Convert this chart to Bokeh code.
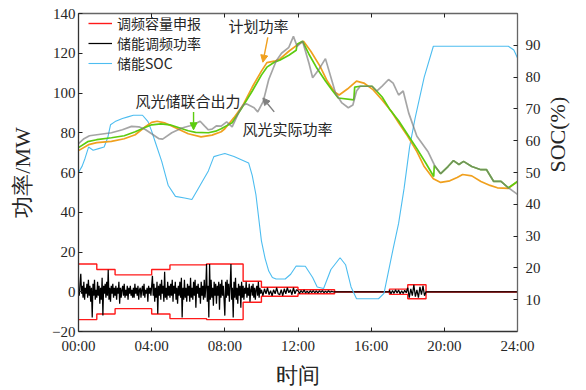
import math
import numpy as np
from bokeh.plotting import figure
from bokeh.models import (Range1d, LinearAxis, FixedTicker, Legend, LegendItem,
                          Arrow, NormalHead, Label)
from bokeh.embed import file_html
from bokeh.resources import INLINE

# ---------------- data ----------------
time_ticks = [0, 4, 8, 12, 16, 20, 24]
time_labels = ["00:00", "04:00", "08:00", "12:00", "16:00", "20:00", "24:00"]
power_ticks = [-20, 0, 20, 40, 60, 80, 100, 120, 140]
soc_ticks = [10, 20, 30, 40, 50, 60, 70, 80, 90]

# 计划功率 (MW)
plan_t = [0, 0.55, 1.0, 1.8, 2.5, 3.1, 3.65, 4.0, 4.3, 4.7, 5.0, 5.5, 6.0, 6.7, 7.3, 7.8,
          8.0, 8.5, 9.0, 9.5, 10.0, 10.3, 10.7, 11.0, 11.5, 12.0, 12.3, 12.7, 13.2, 13.6,
          14.0, 14.25, 14.7, 15.2, 15.6, 16.1, 16.6, 17.1, 17.5, 18.0, 18.5, 18.9, 19.4,
          19.8, 20.3, 20.7, 21.0, 21.5, 22.0, 22.5, 22.9, 23.5, 24.0]
plan_p = [71, 74, 75, 75.7, 77, 79, 83, 85.2, 85.8, 85, 83.8, 81.6, 79.5, 77.9, 78.8, 80.5,
          82, 87.6, 94, 103, 111, 115.3, 116, 117, 121, 124.5, 126, 121, 113.5, 106,
          100.5, 99, 102, 106, 105, 101.7, 96.5, 90.8, 85, 78.2, 70.5, 63, 56.8,
          55, 55.8, 57.5, 59, 58.3, 55.5, 53.5, 52.3, 52, 55.5]

# 风光储联合出力 (MW)
comb_t = [0, 0.5, 1.0, 1.8, 2.5, 3.1, 3.6, 4.0, 4.5, 5.0, 5.5, 6.0, 6.4, 7.1, 7.5, 7.8,
          8.4, 8.9, 9.5, 10.0, 10.3, 10.7, 11.0, 11.5, 11.9, 11.95, 12.25, 12.6, 13.0,
          13.5, 13.9, 14.2, 15.05, 15.1, 15.4, 16.05, 16.3, 16.6, 17.0, 17.5, 18.0, 18.5,
          19.0, 19.42, 19.45, 19.5, 19.8, 20.2, 20.5, 20.8, 21.05, 21.5, 22.0, 22.3, 22.7,
          23.1, 23.5, 24.0]
comb_p = [72.5, 75.5, 76.5, 77.5, 78.5, 80.5, 82.5, 84, 84.5, 84, 82.5, 81, 80.2, 80, 80.8, 82,
          85, 92, 101, 109, 113, 115.5, 116.5, 119, 121.5, 124.5, 126, 119.5, 113,
          106, 101, 97.5, 96.5, 103, 103.4, 103.4, 101, 98, 92, 86, 79, 72,
          64.5, 58, 63.5, 63, 59.4, 63, 66, 64, 65.6, 63, 61.4, 61.5, 55.5,
          55.5, 52.3, 55.5]

# 风光实际功率 (MW)
act_t = [0, 0.3, 0.6, 1.0, 1.8, 2.4, 2.9, 3.3, 3.65, 4.0, 4.4, 4.6, 5.1, 5.65, 6.1, 6.4,
         6.65, 6.9, 7.1, 7.3, 7.55, 7.8, 8.1, 8.4, 8.75, 9.0, 9.2, 9.6, 9.8, 10.1, 10.4,
         10.8, 11.1, 11.5, 11.75, 11.95, 12.25, 12.6, 12.8, 13.15, 13.5, 14.05, 14.4,
         14.75, 15.0, 15.2, 15.4, 16.05, 16.3, 16.6, 16.95, 17.2, 17.5, 17.75, 18.05,
         18.5, 19.1, 19.5, 19.8, 20.2, 20.5, 20.8, 21.05, 21.5, 22.0, 22.3, 22.7, 23.1,
         23.5, 24.0]
act_p = [74.5, 77, 78.5, 79, 80, 81.5, 83.2, 83, 81.6, 79.5, 77, 76.8, 80, 82.4, 83.5, 84.6,
         85.8, 83.3, 81.5, 81.8, 83.5, 83.3, 85.5, 83, 90, 94, 94.5, 92.6, 90.5, 95.8, 106.8,
         116, 120, 123, 128.5, 123.5, 126, 115, 107.7, 112, 117.3, 100, 95,
         92.6, 94, 101, 103.4, 103.4, 101, 103.5, 106.8, 105, 99, 101, 90,
         78.2, 70.6, 63, 59.4, 63, 66, 64, 65.6, 63, 61.4, 61.5, 55.5, 55.5,
         52.3, 49]

# 储能SOC (%)
soc_t = [0, 0.2, 0.36, 0.55, 0.8, 1.1, 1.4, 1.6, 1.75, 2.0, 2.4, 2.7, 3.0, 3.5, 3.8, 4.0,
         4.2, 4.55, 4.9, 5.3, 5.8, 6.2, 6.55, 6.8, 7.1, 7.4, 7.7, 8.0, 8.5, 8.9, 9.3, 9.5,
         9.7, 10.0, 10.2, 10.4, 10.6, 10.8, 11.3, 11.6, 11.9, 12.4, 12.8, 13.05, 13.4,
         13.8, 14.3, 14.6, 14.9, 15.2, 16.4, 16.7, 17.2, 17.5, 17.8, 18.1, 18.4, 18.9,
         19.4, 23.5, 23.8, 24.0]
soc_v = [50, 52, 54.5, 58, 57, 57.5, 58, 61, 65, 66, 67, 67.5, 68, 68, 66, 63,
         59.5, 53.5, 46, 42.5, 42, 41.5, 45, 47.5, 50.5, 55, 55.5, 56, 55, 54, 53, 49,
         43, 28.5, 23, 19, 17, 16.5, 16.5, 18, 20.6, 20.5, 17, 14, 13.5,
         19.5, 23.2, 21, 14, 10.3, 10.3, 12, 26, 34, 45, 58, 67, 80,
         89.7, 89.7, 88.5, 86]

# 调频容量申报 (MW, hourly, symmetric band)
cap_mw = [14, 11.2, 8.5, 8.5, 11.2, 13.5, 13.5, 14, 14, 5.3, 2.3, 2.3,
          1.0, 1.0, 0, 0, 0, 1.3, 3.5, 0, 0, 0, 0, 0]

# 储能调频功率 (MW)
fm_fast_step_min = 2.5      # 00:00-10:00
fm_p_0_10 = [
    1, -2, 4, 9, -1, 3, -3, 5, -4, 2, -1, 4, -3, 6, -2, 3, -5, 2, -13, 4, -2, 6, -4, 1,
    -3, 5, -2, 3, -6, 2, -4, 7, -12, 3, -1, 4, -3, 5, -2, 11, -4, 2, -5, 3, -1, 4, -3, 2,
    -2, 3, -4, 2, -1, 5, -6, 2, -3, 1, 3, -2, 4, -3, 1, -2, 3, -4, 2, -1, 3, -2, 1, -3,
    2, -3, 4, -1, 2, -2, 3, -4, 1, 2, -3, 1, 3, -2, 4, -3, 1, -1, 2, -5, 3, -1, 2, -2,
    3, 8, -2, 4, -5, 2, -3, 5, -11, 3, -2, 4, -4, 6, -1, 3, -5, 10, -3, 2, -4, 5, -2, 3,
    -3, 4, -2, 6, -5, 3, -1, 5, -4, 2, -6, 3, -2, 5, -3, 7, -13, 2, -4, 6, -3, 2, -5, 4,
    -2, 3, -5, 7, -3, 2, -4, 5, -2, 6, -8, 3, -1, 4, -3, 2, -6, 5, -2, 3, -4, 6, -3, 2,
    14, -5, 3, -13, 14, -4, 6, -3, 2, -7, 5, -2, 4, -6, 3, -2, 5, -9, 4, -3, 6, -2, 3, -4,
    -12, 5, -3, 6, -2, 4, -5, 3, 14, -4, 2, -13, 5, -3, 7, -4, 2, -6, 4, -2, 3, -8, 5, -3,
    3, -4, 2, -1, 5, -3, 2, -2, 4, -5, 1, 3, -2, 4, -3, 2, -4, 1, 3, -2, 5, -3, 2, -1]
fm_slow_step_min = 5        # 10:00-14:00 and 17:00-19:00
fm_p_10_14 = [
    1, -2, 1.5, -1, 2, -1.5, 0.5, -2, 1, -1, 2, -1,
    -1.5, 1, -2, 1.5, -1, 2, -0.5, 1, -1.5, 2, -1, 1,
    0.5, -0.8, 0.6, -0.5, 0.8, -0.6, 0.3, -0.7, 0.5, -0.4, 0.6, -0.5,
    0.4, -0.6, 0.5, -0.3, 0.6, -0.5, 0.3, -0.4, 0.5, -0.3, 0.2, 0]
fm_p_17_19 = [
    0.8, -1, 0.6, -0.8, 1, -0.6, 0.9, -1, 0.5, -0.9, 0.7, -0.5,
    2, -3, 1.5, -2, 3.5, -2.5, 1, -3, 2.5, -1.5, 3, -2]
fm_quiet = [(14, 0.0), (17, 0.0), (19, 0.0), (24, 0.0)]

# ---------------- derived arrays ----------------
d_fast = fm_fast_step_min / 60.0
d_slow = fm_slow_step_min / 60.0
fm_t = (list(np.arange(len(fm_p_0_10)) * d_fast) +
        list(10 + np.arange(len(fm_p_10_14)) * d_slow) +
        [fm_quiet[0][0], fm_quiet[1][0]] +
        list(17 + np.arange(len(fm_p_17_19)) * d_slow) +
        [fm_quiet[2][0], fm_quiet[3][0]])
fm_p = (list(fm_p_0_10) + list(fm_p_10_14) + [fm_quiet[0][1], fm_quiet[1][1]] +
        list(fm_p_17_19) + [fm_quiet[2][1], fm_quiet[3][1]])

cap_x = np.repeat(np.arange(len(cap_mw) + 1), 2)[1:-1]
cap_hi = np.repeat(np.array(cap_mw, dtype=float), 2)
cap_lo = -cap_hi

# ---------------- figure ----------------
SERIF = "'Liberation Serif'"
CJK = "'Noto Sans CJK SC'"
TXT = "#262626"

p = figure(width=586, height=390, x_range=Range1d(0, 24), y_range=Range1d(-20, 140),
           output_backend="svg", toolbar_location=None,
           min_border_left=78, min_border_right=69, min_border_top=13, min_border_bottom=59)
p.extra_y_ranges = {"soc": Range1d(0, 100)}
p.xgrid.visible = False
p.ygrid.visible = False
p.outline_line_color = None
p.background_fill_color = "white"

def style_axis(ax, line_color="#333333"):
    ax.axis_line_color = line_color
    ax.axis_line_width = 1.3
    ax.major_tick_in = 4
    ax.major_tick_out = 0
    ax.major_tick_line_color = "#222222"
    ax.minor_tick_line_color = None
    ax.major_label_text_font = SERIF
    ax.major_label_text_font_size = "15px"
    ax.major_label_text_color = TXT
    ax.axis_label_text_font = SERIF
    ax.axis_label_text_font_size = "22px"
    ax.axis_label_text_font_style = "normal"
    ax.axis_label_text_color = TXT

xa = p.xaxis[0]
style_axis(xa)
xa.ticker = FixedTicker(ticks=time_ticks)
xa.major_label_overrides = {t: s for t, s in zip(time_ticks, time_labels)}
xa.axis_label = "时间"
xa.major_label_standoff = 6
xa.axis_label_standoff = 6

ya = p.yaxis[0]
style_axis(ya)
ya.ticker = FixedTicker(ticks=power_ticks)
ya.axis_label = "功率/MW"
ya.major_label_standoff = 3
ya.axis_label_standoff = 14

ra = LinearAxis(y_range_name="soc", ticker=FixedTicker(ticks=soc_ticks), axis_label="SOC(%)")
style_axis(ra, "#666666")
ra.major_label_standoff = 8
ra.axis_label_standoff = 14
ra.axis_label_orientation = math.pi / 2
p.add_layout(ra, "right")

ta = LinearAxis(ticker=FixedTicker(ticks=time_ticks))
style_axis(ta, "#666666")
ta.major_label_overrides = {t: "" for t in time_ticks}
ta.major_label_text_font_size = "2px"
ta.major_label_standoff = 0
p.add_layout(ta, "above")

# ---------------- glyphs ----------------
r_cap = p.line(cap_x, cap_hi, line_color="#ff1a1a", line_width=1.4)
p.line(cap_x, cap_lo, line_color="#ff1a1a", line_width=1.4)
r_fm = p.line(fm_t, fm_p, line_color="black", line_width=1.25)
r_soc = p.line(soc_t, soc_v, y_range_name="soc", line_color="#4dbdf0", line_width=1.1)
p.line(plan_t, plan_p, line_color="#f0a01e", line_width=1.7)
p.line(comb_t, comb_p, line_color="#5ccc10", line_width=1.7)
p.line(act_t, act_p, line_color="#7a7a7a", line_width=1.7, line_alpha=0.68)

legend = Legend(items=[LegendItem(label="调频容量申报", renderers=[r_cap]),
                       LegendItem(label="储能调频功率", renderers=[r_fm]),
                       LegendItem(label="储能SOC", renderers=[r_soc])],
                location=(10, 258), padding=0, margin=0, spacing=0,
                glyph_width=24, glyph_height=18, label_height=18, label_standoff=5,
                label_text_font=CJK, label_text_font_size="14px", label_text_color=TXT,
                border_line_color=None, background_fill_alpha=0)
p.add_layout(legend)

# ---------------- annotations ----------------
p.add_layout(Label(x=8.2, y=134, text="计划功率", text_font=CJK, text_font_size="15px",
                   text_color=TXT, text_baseline="middle"))
p.add_layout(Arrow(end=NormalHead(size=7, fill_color="#f0a01e", line_color="#f0a01e"),
                   x_start=10.35, y_start=128, x_end=10.08, y_end=115.5,
                   line_color="#f0a01e", line_width=1.4))

p.add_layout(Label(x=3.12, y=96.2, text="风光储联合出力", text_font=CJK, text_font_size="15px",
                   text_color=TXT, text_baseline="middle"))
p.add_layout(Arrow(end=NormalHead(size=7, fill_color="#5ccc10", line_color="#5ccc10"),
                   x_start=6.29, y_start=90.5, x_end=6.29, y_end=81.5,
                   line_color="#5ccc10", line_width=1.4))

p.add_layout(Label(x=8.97, y=82.1, text="风光实际功率", text_font=CJK, text_font_size="15px",
                   text_color=TXT, text_baseline="middle"))
p.add_layout(Arrow(end=NormalHead(size=7, fill_color="#808080", line_color="#808080"),
                   x_start=10.7, y_start=90.5, x_end=10.08, y_end=97.5,
                   line_color="#808080", line_width=1.4))

open("out.html", "w").write(file_html(p, INLINE))
